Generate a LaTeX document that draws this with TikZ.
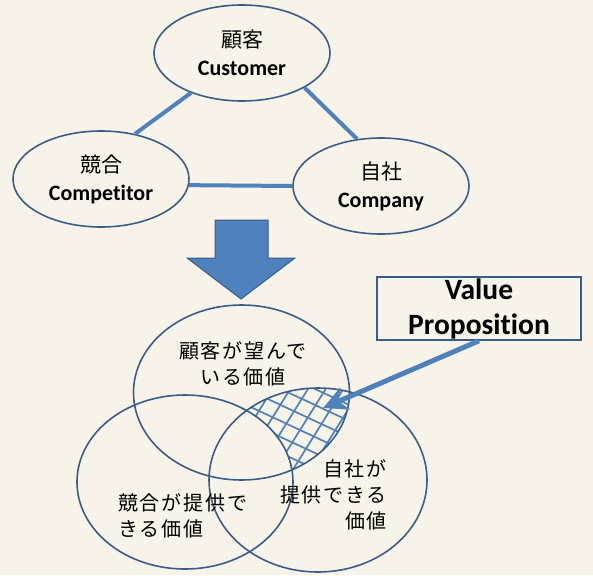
\documentclass[tikz,border=0pt]{standalone}
\usepackage{fontspec}
\setmainfont{Carlito}[Ligatures={NoCommon}]
\newfontfamily\jp{Noto Sans CJK JP}[LetterSpace=9]
\newfontfamily\jptop{Noto Sans CJK JP}
\usetikzlibrary{arrows.meta,shapes.geometric}
\definecolor{bg}{HTML}{F8F3E8}
\definecolor{edge}{HTML}{385D8A}
\definecolor{acc}{HTML}{4F81BD}
\tikzset{
  topell/.style={ellipse, draw=edge, line width=1.6pt, minimum width=176pt, minimum height=96pt, inner sep=0pt, align=center, font=\fontsize{22}{28}\selectfont},
  link/.style={draw=acc, line width=4pt},
  venn/.style={draw=edge, line width=1.6pt},
  vtext/.style={inner sep=0pt, font=\jp\fontsize{20}{26}\selectfont},
  hatch/.style={draw=acc, line width=1.7pt},
}
\begin{document}
\begin{tikzpicture}[x=1pt,y=-1pt]
\useasboundingbox (0,0) rectangle (593,575);
\fill[bg] (0,0) rectangle (593,575);

% top triangle
\node[topell] (cust) at (242,53) {{\jptop\fontsize{21}{28}\selectfont 顧客}\\\textbf{Customer}};
\node[topell] (comp) at (101,179) {{\jptop\fontsize{21}{28}\selectfont 競合}\\\textbf{Competitor}};
\node[topell] (co) at (381,186) {{\jptop\fontsize{21}{28}\selectfont 自社}\\\textbf{Company}};
\draw[link] (cust.218) -- (comp.53);
\draw[link] (cust.331) -- (co.117);
\draw[link] (comp.356) -- (co.180);

% block arrow
\filldraw[fill=acc, draw=edge, line width=1pt] (215,220) -- (268,220) -- (268,258) -- (295,258) -- (241,299) -- (187,258) -- (215,258) -- cycle;

% hatch: top & right, minus left
\begin{scope}
  \clip (241.5,392.5) ellipse [x radius=108, y radius=87.5];
  \clip (318,480) ellipse [x radius=109, y radius=92];
  \begin{scope}[shift={(300,430)}, rotate=-25]
    \foreach \k in {-6,...,6} \draw[hatch] (-150,\k*14.5) -- (150,\k*14.5);
  \end{scope}
  \begin{scope}[shift={(300,430)}, rotate=58]
    \foreach \k in {-6,...,6} \draw[hatch] (-150,\k*15) -- (150,\k*15);
  \end{scope}
\end{scope}
\fill[bg] (185,482) ellipse [x radius=108, y radius=87];

% venn ellipses
\draw[venn] (241.5,392.5) ellipse [x radius=108, y radius=87.5];
\draw[venn] (185,482) ellipse [x radius=108, y radius=87];
\draw[venn] (318,480) ellipse [x radius=109, y radius=92];

\node[vtext, align=center] (t1) at (243,364) {顧客が望んで\\いる価値};
\node[vtext, align=left, anchor=west] (t2) at (118,516) {競合が提供で\\きる価値};
\node[vtext, align=right, anchor=east] (t3) at (387,495) {自社が\\提供できる\\価値};

% value proposition
\node[draw=edge, line width=1.6pt, minimum width=204pt, minimum height=63pt, inner sep=0pt, align=center, font=\bfseries\fontsize{29.5}{35}\selectfont] (vp) at (479,308.5) {Value\\Proposition};
\coordinate (tip) at (323,408);
\draw[draw=acc, line width=5pt, -{Stealth[length=24pt, width=24pt, inset=7pt, fill=acc]}] (vp.south) -- (tip);
\end{tikzpicture}
\end{document}
